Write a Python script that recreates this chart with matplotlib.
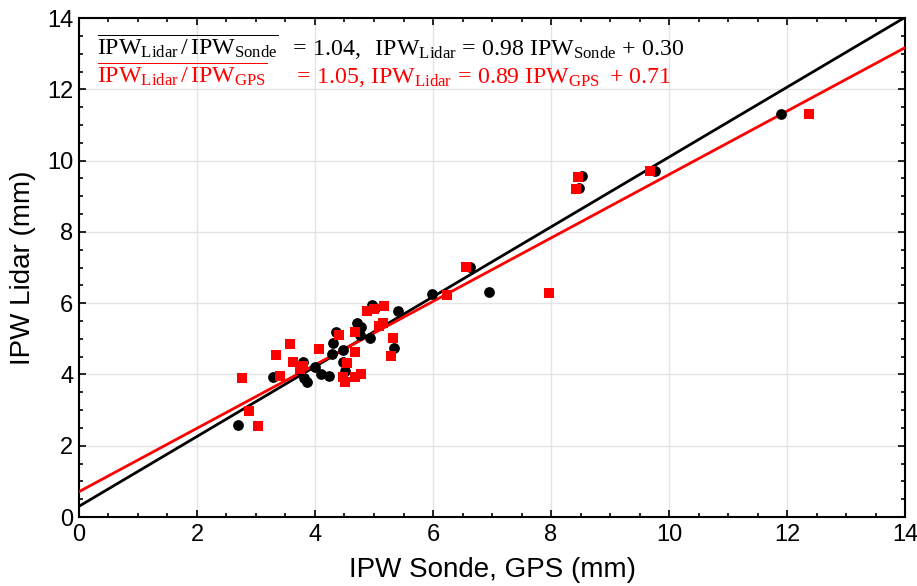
import matplotlib
matplotlib.use("Agg")
import matplotlib.pyplot as plt
import numpy as np
from matplotlib.ticker import MultipleLocator

# IPW Lidar vs IPW Sonde (black circles)
sonde_x = [2.70, 3.28, 3.80, 3.75, 3.87, 3.81, 4.00, 4.11, 4.24, 4.28, 4.31, 4.36,
           4.48, 4.48, 4.51, 4.72, 4.78, 4.76, 4.96, 5.02, 4.93, 5.41, 5.34, 5.98,
           6.62, 6.95, 8.52, 8.48, 9.76, 11.89]
sonde_y = [2.58, 3.94, 4.36, 4.12, 3.80, 3.90, 4.20, 4.00, 3.96, 4.57, 4.87, 5.20,
           4.68, 4.36, 4.10, 5.43, 5.34, 5.10, 5.95, 5.86, 5.02, 5.79, 4.73, 6.25,
           7.02, 6.30, 9.57, 9.22, 9.71, 11.30]

# IPW Lidar vs IPW GPS (red squares)
gps_x = [2.77, 2.89, 3.03, 3.34, 3.40, 3.58, 3.62, 3.75, 3.79, 4.06, 4.40, 4.48,
         4.51, 4.55, 4.68, 4.68, 4.68, 4.78, 4.88, 5.00, 5.17, 5.09, 5.16, 5.32,
         5.29, 6.23, 6.56, 7.97, 8.46, 8.43, 9.68, 12.37]
gps_y = [3.89, 2.97, 2.56, 4.54, 3.95, 4.85, 4.34, 4.14, 4.24, 4.71, 5.10, 3.94,
         3.80, 4.31, 5.20, 4.64, 3.94, 4.00, 5.78, 5.85, 5.92, 5.37, 5.43, 5.03,
         4.52, 6.23, 7.02, 6.29, 9.55, 9.20, 9.71, 11.30]

# linear fits: slope, intercept
fit_sonde = (0.98, 0.30)
fit_gps = (0.89, 0.71)

plt.rcParams["font.family"] = "Liberation Sans"
plt.rcParams["mathtext.fontset"] = "custom"
plt.rcParams["mathtext.rm"] = "Liberation Serif"
plt.rcParams["mathtext.it"] = "Liberation Serif:italic"

fig = plt.figure(figsize=(9.17, 5.86), dpi=100)
ax = fig.add_axes([0.0861, 0.1177, 0.9009, 0.8515])

xx = np.array([0, 14])
ax.plot(xx, fit_sonde[0] * xx + fit_sonde[1], color="black", lw=2, zorder=3)
ax.plot(xx, fit_gps[0] * xx + fit_gps[1], color="red", lw=2, zorder=3)
ax.scatter(sonde_x, sonde_y, s=60, color="black", marker="o", zorder=4, linewidths=0)
ax.scatter(gps_x, gps_y, s=52, color="red", marker="s", zorder=5, linewidths=0)

ax.set_xlim(0, 14)
ax.set_ylim(0, 14)
ax.xaxis.set_major_locator(MultipleLocator(2))
ax.yaxis.set_major_locator(MultipleLocator(2))
ax.xaxis.set_minor_locator(MultipleLocator(0.5))
ax.yaxis.set_minor_locator(MultipleLocator(0.5))
ax.tick_params(which="both", direction="in", top=True, right=True, width=1.2)
ax.tick_params(which="major", length=5, labelsize=17)
ax.tick_params(axis="x", which="major", pad=5)
ax.tick_params(axis="y", which="major", pad=4)
ax.tick_params(which="minor", length=3)
ax.grid(True, which="major", color="#e4e4e4", lw=1)
ax.set_axisbelow(True)
for sp in ax.spines.values():
    sp.set_linewidth(1.5)

ax.set_xlabel("IPW Sonde, GPS (mm)", fontsize=20, labelpad=8)
ax.set_ylabel("IPW Lidar (mm)", fontsize=20, labelpad=8)

fs = 17.2
ax.text(0.022, 0.926, r"$\overline{\mathrm{IPW}_{\mathrm{Lidar}}\,/\,\mathrm{IPW}_{\mathrm{Sonde}}}$",
        transform=ax.transAxes, fontsize=fs, color="black", va="baseline")
ax.text(0.254, 0.926,
        r"$=\,1.04,\ \ \mathrm{IPW}_{\mathrm{Lidar}}\,=\,0.98\ \mathrm{IPW}_{\mathrm{Sonde}}\,+\,0.30$",
        transform=ax.transAxes, fontsize=fs, color="black", va="baseline")
ax.text(0.022, 0.870, r"$\overline{\mathrm{IPW}_{\mathrm{Lidar}}\,/\,\mathrm{IPW}_{\mathrm{GPS}}}$",
        transform=ax.transAxes, fontsize=fs, color="red", va="baseline")
ax.text(0.259, 0.870,
        r"$=\,1.05,\,\mathrm{IPW}_{\mathrm{Lidar}}\,=\,0.89\ \mathrm{IPW}_{\mathrm{GPS}}\ +\,0.71$",
        transform=ax.transAxes, fontsize=fs, color="red", va="baseline")

fig.savefig("out.png", dpi=100)
